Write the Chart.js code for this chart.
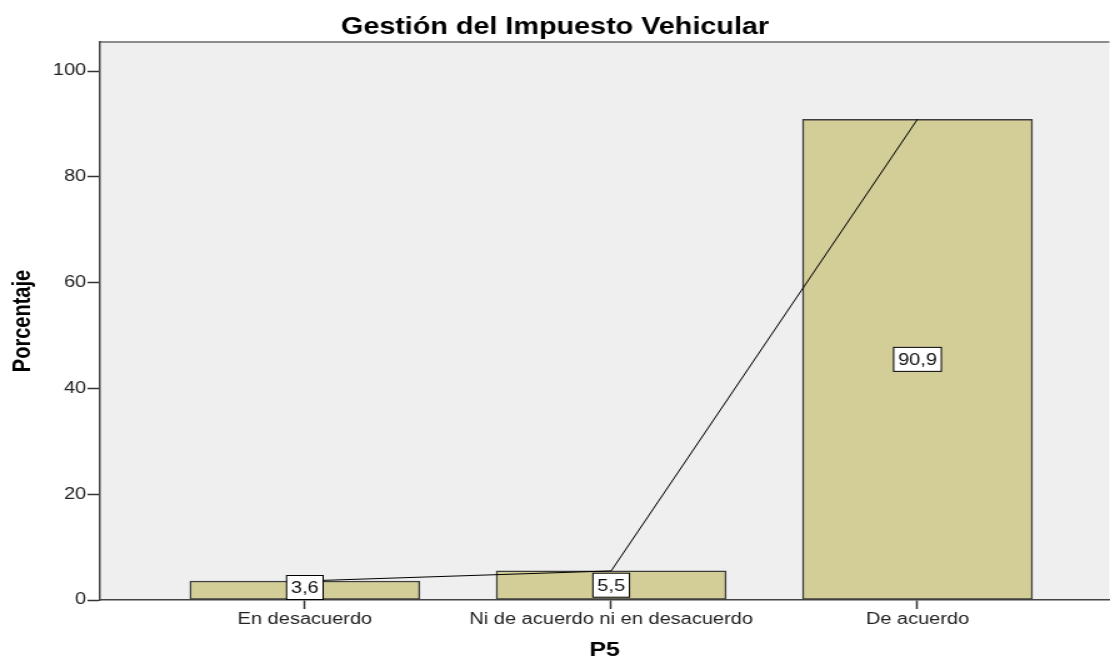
<!DOCTYPE html>
<html lang="es">
<head>
    <meta charset="UTF-8">
    <title>Gestión del Impuesto Vehicular</title>
    <script src="https://cdn.jsdelivr.net/npm/chart.js"></script>
    <style>
        body {
            margin: 0;
            padding: 0;
            background-color: #fff;
            overflow: hidden;
        }

        /* the reference picture is stretched horizontally, so the canvas is too */
        #wrap {
            width: 888px;
            height: 660px;
            transform: scaleX(1.25);
            transform-origin: 0 0;
        }
    </style>
</head>
<body>
    <div id="wrap">
        <canvas id="chart"></canvas>
    </div>

    <script>
        const categorias = ['En desacuerdo', 'Ni de acuerdo ni en desacuerdo', 'De acuerdo'];
        const porcentajes = [3.6, 5.5, 90.9];
        const ticksY = [0, 20, 40, 60, 80, 100];

        const puntos = porcentajes.map((v, i) => ({ x: i, y: v }));
        const fuente = "'Liberation Sans', Arial, sans-serif";

        // fondo gris del area del grafico y borde superior
        const fondoArea = {
            id: 'fondoArea',
            beforeDraw(chart) {
                const { ctx, chartArea: a } = chart;
                ctx.save();
                ctx.fillStyle = '#efefef';
                ctx.fillRect(a.left, a.top, a.right - a.left, a.bottom - a.top);
                ctx.strokeStyle = '#8c8c8c';
                ctx.lineWidth = 2;
                ctx.beginPath();
                ctx.moveTo(a.left, a.top);
                ctx.lineTo(a.right, a.top);
                ctx.stroke();
                ctx.restore();
            }
        };

        // etiquetas con caja blanca en el centro de cada barra
        const etiquetas = {
            id: 'etiquetas',
            afterDatasetsDraw(chart) {
                const ctx = chart.ctx;
                const meta = chart.getDatasetMeta(1); // dataset de barras
                ctx.save();
                ctx.font = '16px ' + fuente;
                ctx.textAlign = 'center';
                ctx.textBaseline = 'middle';
                meta.data.forEach((bar, i) => {
                    const texto = porcentajes[i].toFixed(1).replace('.', ',');
                    const w = ctx.measureText(texto).width + 7;
                    const h = 24;
                    let top = (bar.y + bar.base) / 2 - h / 2;
                    if (top + h > bar.base) top = bar.base - h;
                    ctx.fillStyle = '#fff';
                    ctx.fillRect(bar.x - w / 2, top, w, h);
                    ctx.strokeStyle = '#000';
                    ctx.lineWidth = 1;
                    ctx.strokeRect(bar.x - w / 2, top, w, h);
                    ctx.fillStyle = '#111';
                    ctx.fillText(texto, bar.x, top + h / 2 + 1);
                });
                ctx.restore();
            }
        };

        new Chart(document.getElementById('chart'), {
            data: {
                datasets: [
                    {
                        type: 'line',
                        data: puntos,
                        borderColor: '#000',
                        borderWidth: 1,
                        pointRadius: 0,
                        tension: 0,
                        order: 0
                    },
                    {
                        type: 'bar',
                        data: puntos,
                        backgroundColor: '#d3ce97',
                        borderColor: '#3e3e3e',
                        borderWidth: 1.5,
                        borderSkipped: false,
                        barThickness: 184,
                        order: 1
                    }
                ]
            },
            options: {
                responsive: true,
                maintainAspectRatio: false,
                animation: false,
                layout: { padding: 0 },
                plugins: {
                    legend: { display: false },
                    tooltip: { enabled: false },
                    title: {
                        display: true,
                        text: 'Gestión del Impuesto Vehicular',
                        color: '#000',
                        font: { family: fuente, size: 23, weight: 'bold', lineHeight: 1.2 },
                        padding: { top: 14, bottom: 0.4 }
                    }
                },
                scales: {
                    x: {
                        type: 'linear',
                        min: -0.6688,
                        max: 2.6264,
                        offset: false,
                        afterBuildTicks: (scale) => {
                            scale.ticks = categorias.map((c, i) => ({ value: i }));
                        },
                        afterFit: (scale) => { scale.height = 60; },
                        ticks: {
                            autoSkip: false,
                            maxRotation: 0,
                            padding: 1,
                            color: '#222',
                            font: { family: fuente, size: 16 },
                            callback: (v) => categorias[v] ?? ''
                        },
                        grid: {
                            offset: false,
                            drawOnChartArea: false,
                            drawTicks: true,
                            tickLength: 9,
                            tickColor: '#333',
                            tickWidth: 1.5
                        },
                        border: { display: true, color: '#444', width: 1.5 },
                        title: {
                            display: true,
                            text: 'P5',
                            color: '#000',
                            font: { family: fuente, size: 20, weight: 'bold', lineHeight: 1 },
                            padding: { top: 0, bottom: 0 }
                        }
                    },
                    y: {
                        min: 0,
                        max: 105.5,
                        afterBuildTicks: (scale) => {
                            scale.ticks = ticksY.map(v => ({ value: v }));
                        },
                        afterFit: (scale) => { scale.width = 80; },
                        ticks: {
                            padding: 1,
                            color: '#222',
                            font: { family: fuente, size: 16 }
                        },
                        grid: {
                            drawOnChartArea: false,
                            drawTicks: true,
                            tickLength: 10,
                            tickColor: '#333',
                            tickWidth: 1.5
                        },
                        border: { display: true, color: '#444', width: 1.5 },
                        title: {
                            display: true,
                            text: 'Porcentaje',
                            color: '#000',
                            font: { family: fuente, size: 20, weight: 'bold', lineHeight: 1 },
                            padding: { top: 8.4, bottom: 0 }
                        }
                    }
                }
            },
            plugins: [fondoArea, etiquetas]
        });
    </script>
</body>
</html>
